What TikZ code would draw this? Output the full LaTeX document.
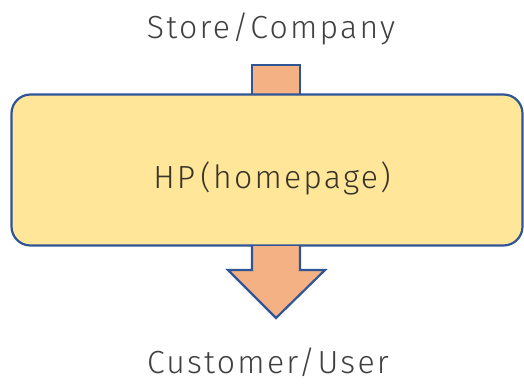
\documentclass[tikz,border=0pt]{standalone}
\usepackage{fontspec}
\setmainfont{Fira Sans Light}[LetterSpace=7]
\begin{document}
\begin{tikzpicture}[x=1pt,y=-1pt,
  blockarrow/.style={fill=arrowfill,draw=edgeblue,line width=2.2pt,line join=miter},
  pagebox/.style={draw=edgeblue,fill=boxfill,line width=2.2pt,rounded corners=19pt,
    minimum width=511pt,minimum height=151pt,inner sep=0pt},
  caption/.style={anchor=base,inner sep=0pt,text=labelgray,font=\fontsize{32}{36}\selectfont}
]
\definecolor{arrowfill}{HTML}{F4B183}
\definecolor{boxfill}{HTML}{FFE699}
\definecolor{edgeblue}{HTML}{2F5597}
\definecolor{labelgray}{HTML}{404040}
\useasboundingbox (0,0) rectangle (524,383);

% stem entering the page box from above (drawn first, so the box covers its foot)
\draw[blockarrow] (252,98) -- (252,65) -- (300,65) -- (300,98);

% the homepage box
\node[pagebox] (hp) at (267,170) {};

% block arrow leaving the box downward
\draw[blockarrow] (252,246) -- (252,270) -- (228,270) -- (276,318) -- (325,270) -- (300,270) -- (300,246);

\node[caption] (store) at (271,38) {Store/Company};
\node[caption,text=black!80!olive] (hplabel) at (272,188) {HP\,(homepage)};
\node[caption] (user) at (268,373.5) {Customer/User};
\end{tikzpicture}
\end{document}
